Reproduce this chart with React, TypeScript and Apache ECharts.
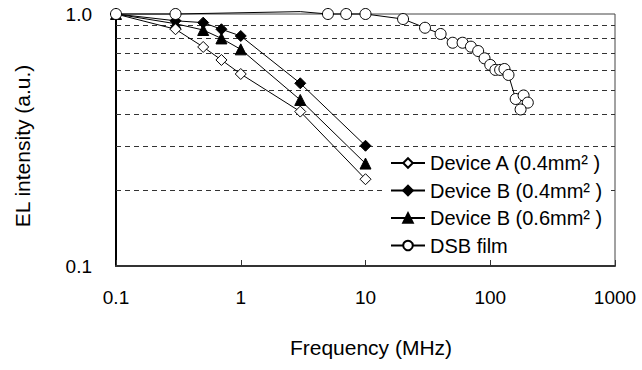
import React, { useEffect, useRef } from "react";
import * as echarts from "echarts";

const seriesNames = [
  "Device A (0.4mm² )",
  "Device B (0.4mm² )",
  "Device B (0.6mm² )",
  "DSB film",
];

const deviceAFreq = [0.1, 0.3, 0.5, 0.7, 1, 3, 10];
const deviceAValues = [1.0, 0.87, 0.74, 0.657, 0.578, 0.41, 0.221];

const deviceB04Freq = [0.1, 0.3, 0.5, 0.7, 1, 3, 10];
const deviceB04Values = [1.0, 0.94, 0.924, 0.87, 0.818, 0.531, 0.3];

const deviceB06Freq = [0.1, 0.3, 0.5, 0.7, 1, 3, 10];
const deviceB06Values = [1.0, 0.915, 0.864, 0.8, 0.724, 0.456, 0.255];

const dsbFreq = [0.1, 0.3, 3, 5, 7, 10, 20, 30, 40, 50, 60, 70, 80, 90, 100, 110, 120, 130, 140, 160, 185, 200, 175];
const dsbValues = [1.0, 1.0, 1.022, 1.0, 1.0, 1.0, 0.955, 0.882, 0.833, 0.769, 0.769, 0.742, 0.713, 0.667, 0.628, 0.6, 0.6, 0.605, 0.573, 0.46, 0.475, 0.445, 0.418];
const dsbHiddenIndex = 2;

const gridLineValues = [0.2, 0.3, 0.4, 0.5, 0.6, 0.7, 0.8, 0.9];

const xAxisTitle = "Frequency (MHz)";
const yAxisTitle = "EL intensity (a.u.)";

const FONT = "'Liberation Sans', Arial, sans-serif";

function pairs(xs: number[], ys: number[]) {
  return xs.map((x, i) => [x, ys[i]]);
}

export default function App() {
  const ref = useRef<HTMLDivElement>(null);
  useEffect(() => {
    if (!ref.current) return;
    const chart = echarts.init(ref.current, undefined, { renderer: "svg" });
    const lineStyle = { color: "#000", width: 1 };
    const dsbData = pairs(dsbFreq, dsbValues).map((p, i) =>
      i === dsbHiddenIndex ? { value: p, symbol: "none" } : { value: p }
    );
    chart.setOption({
      animation: false,
      backgroundColor: "#fff",
      textStyle: { fontFamily: FONT },
      grid: {
        left: 116,
        top: 14,
        right: 27,
        bottom: 104,
        show: true,
        borderColor: "#444",
        borderWidth: 1,
        backgroundColor: "transparent",
      },
      legend: {
        orient: "vertical",
        left: 384,
        top: 150,
        padding: [3, 6, 3, 6],
        backgroundColor: "#fff",
        itemWidth: 34,
        itemHeight: 12,
        itemGap: 7.5,
        textStyle: { fontSize: 20, color: "#000", fontFamily: FONT, lineHeight: 20 },
        data: seriesNames,
      },
      xAxis: {
        type: "log",
        logBase: 10,
        min: 0.1,
        max: 1000,
        axisLine: { show: true, lineStyle: { color: "#333", width: 2 } },
        axisTick: { show: true, inside: true, length: 6, lineStyle: { color: "#333", width: 1 } },
        axisLabel: {
          fontSize: 19,
          color: "#000",
          margin: 22,
          fontFamily: FONT,
          formatter: (v: number) => (v < 1 ? v.toFixed(1) : String(Math.round(v))),
        },
        splitLine: { show: false },
        minorTick: { show: false },
      },
      yAxis: {
        type: "log",
        logBase: 10,
        min: 0.1,
        max: 1,
        axisLine: { show: true, lineStyle: { color: "#000", width: 2 } },
        axisTick: { show: false },
        axisLabel: {
          fontSize: 19,
          color: "#000",
          margin: 24,
          fontFamily: FONT,
          formatter: (v: number) => v.toFixed(1),
        },
        splitLine: { show: false },
      },
      graphic: [
        {
          type: "text",
          x: 371,
          y: 347,
          style: {
            text: xAxisTitle,
            fontSize: 21,
            fontFamily: FONT,
            fill: "#000",
            align: "center",
            verticalAlign: "middle",
          },
        },
        {
          type: "text",
          x: 22,
          y: 146,
          rotation: Math.PI / 2,
          style: {
            text: yAxisTitle,
            fontSize: 21,
            fontFamily: FONT,
            fill: "#000",
            align: "center",
            verticalAlign: "middle",
          },
        },
      ],
      series: [
        {
          name: seriesNames[0],
          type: "line",
          data: pairs(deviceAFreq, deviceAValues),
          symbol: "diamond",
          symbolSize: 11,
          lineStyle,
          itemStyle: { color: "#fff", borderColor: "#000", borderWidth: 1 },
          z: 5,
          markLine: {
            silent: true,
            symbol: ["none", "none"],
            label: { show: false },
            lineStyle: { color: "#333", width: 1, type: [5, 4] },
            data: gridLineValues.map((v) => ({ yAxis: v })),
            z: 1,
          },
        },
        {
          name: seriesNames[1],
          type: "line",
          data: pairs(deviceB04Freq, deviceB04Values),
          symbol: "diamond",
          symbolSize: 11,
          lineStyle,
          itemStyle: { color: "#000", borderColor: "#000", borderWidth: 1 },
          z: 4,
        },
        {
          name: seriesNames[2],
          type: "line",
          data: pairs(deviceB06Freq, deviceB06Values),
          symbol: "triangle",
          symbolSize: 11,
          lineStyle,
          itemStyle: { color: "#000", borderColor: "#000", borderWidth: 1 },
          z: 4,
        },
        {
          name: seriesNames[3],
          type: "line",
          data: dsbData,
          symbol: "circle",
          symbolSize: 11,
          clip: false,
          lineStyle,
          itemStyle: { color: "#fff", borderColor: "#000", borderWidth: 1 },
          z: 6,
        },
      ],
    });
    return () => chart.dispose();
  }, []);
  return <div ref={ref} style={{ width: 642, height: 370, position: "fixed", left: 0, top: 0 }} />;
}
